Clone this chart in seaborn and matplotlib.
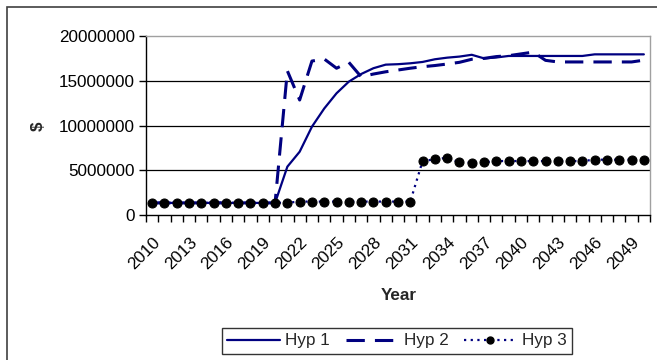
import numpy as np
import pandas as pd
import seaborn as sns
import matplotlib
matplotlib.use("Agg")
import matplotlib.pyplot as plt
from matplotlib.patches import Rectangle
from matplotlib.lines import Line2D
from matplotlib.ticker import FixedLocator, FuncFormatter
from matplotlib.transforms import ScaledTranslation

years = list(range(2010, 2051))

hyp1 = [1350000] * 11 + [
    5400000, 7070000, 9870000, 11900000, 13600000, 14900000, 15750000, 16400000, 16800000, 16850000,
    16950000, 17100000, 17400000, 17580000, 17700000, 17900000, 17500000, 17600000, 17770000,
] + [17770000] * 6 + [17950000] * 5

hyp2 = [1350000] * 11 + [
    16100000, 12850000, 17200000, 17430000, 16400000, 17060000, 15450000, 15750000, 16000000, 16200000,
    16400000, 16570000, 16700000, 16870000, 17060000, 17400000, 17500000, 17700000, 17800000, 18000000,
    18200000, 17280000,
] + [17100000] * 7 + [17300000]

hyp3 = [1370000] * 12 + [1500000] * 10 + [
    6030000, 6220000, 6400000, 5890000, 5850000, 5890000,
] + [6030000] * 8 + [6180000] * 5

series_names = ["Hyp 1", "Hyp 2", "Hyp 3"]
tick_years = years[::3]

navy = "#000080"
fs = 12.3

sns.set_theme(style="white")
plt.rcParams["font.family"] = ["Liberation Sans", "DejaVu Sans"]

fig = plt.figure(figsize=(6.57, 3.6), dpi=100)
ax = fig.add_axes([146 / 657, 1 - 215 / 360, 504 / 657, 179 / 360])

pos = np.arange(len(years))
df = pd.DataFrame({"pos": np.tile(pos, 3),
                   "value": hyp1 + hyp2 + hyp3,
                   "series": np.repeat(series_names, len(years))})

sns.lineplot(data=df[df.series == "Hyp 1"], x="pos", y="value", ax=ax,
             color=navy, linewidth=1.6, label="Hyp 1", zorder=3)
sns.lineplot(data=df[df.series == "Hyp 2"], x="pos", y="value", ax=ax,
             color=navy, linewidth=2.2, dashes=False, label="Hyp 2", zorder=3)
ax.lines[-1].set_dashes((6, 3.3))
sns.lineplot(data=df[df.series == "Hyp 3"], x="pos", y="value", ax=ax,
             color=navy, linewidth=1.6, label="Hyp 3", zorder=4,
             marker="o", markersize=6.5, markerfacecolor="black", markeredgecolor="black")
ax.lines[-1].set_dashes((1, 2))

ax.set_xlim(-0.5, len(years) - 0.5)
ax.set_ylim(0, 20000000)
ax.set_yticks([0, 5000000, 10000000, 15000000, 20000000])
ax.yaxis.set_major_formatter(FuncFormatter(lambda v, p: f"{int(v)}"))

ax.set_xticks([years.index(y) for y in tick_years])
ax.set_xticklabels([str(y) for y in tick_years], rotation=45, ha="right",
                   va="top", rotation_mode="anchor")
shift = ScaledTranslation(-8 / 100, 0, fig.dpi_scale_trans)
for lbl in ax.get_xticklabels():
    lbl.set_transform(lbl.get_transform() + shift)
ax.xaxis.set_minor_locator(FixedLocator(np.arange(-0.5, len(years), 1.0)))
ax.tick_params(axis="x", which="major", length=0, pad=14, labelsize=fs, colors="black")
ax.tick_params(axis="x", which="minor", length=5, width=1, color="black", bottom=True)
ax.tick_params(axis="y", which="major", length=5, width=1, color="black", left=True,
               labelsize=fs, pad=3, labelcolor="black")

ax.grid(False)
for v in [5000000, 10000000, 15000000]:
    ax.axhline(v, color="black", linewidth=0.9, zorder=1)

for side in ["top", "right"]:
    ax.spines[side].set_color("#A0A0A0")
    ax.spines[side].set_linewidth(1)
for side in ["left", "bottom"]:
    ax.spines[side].set_color("black")
    ax.spines[side].set_linewidth(1)

ax.set_xlabel("")
ax.set_ylabel("")
fig.text(399 / 657, 1 - 295 / 360, "Year", fontsize=fs, fontweight="bold",
         ha="center", va="center")
fig.text(38 / 657, 1 - 126 / 360, "$", fontsize=fs, fontweight="bold",
         rotation=90, ha="center", va="center")

ax.get_legend().remove()
handles = [
    Line2D([], [], color=navy, linewidth=1.6),
    Line2D([], [], color=navy, linewidth=2.2, dashes=(6, 3.3)),
    Line2D([], [], color=navy, linewidth=1.6, dashes=(1, 2), marker="o",
           markersize=5, markerfacecolor="black", markeredgecolor="black"),
]
leg = fig.legend(handles, series_names, loc="center", ncol=3,
                 bbox_to_anchor=(397 / 657, 1 - 341 / 360), frameon=True,
                 fancybox=False, edgecolor="black", fontsize=fs,
                 handlelength=3.1, handletextpad=0.3, columnspacing=0.9,
                 borderpad=0.3, borderaxespad=0)
leg.get_frame().set_linewidth(1)

fig.patches.append(Rectangle((7 / 657, -0.2), 1.2, 1.2 - 7 / 360,
                             transform=fig.transFigure, fill=False,
                             edgecolor="#404040", linewidth=1.2))

fig.savefig("out.png", dpi=100, facecolor="white")
